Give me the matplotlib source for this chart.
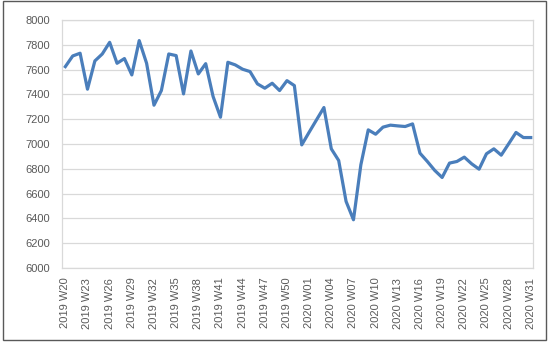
import matplotlib.pyplot as plt
from matplotlib.patches import Rectangle

# Semanas: 2019 W20..W52 y 2020 W01..W31
semanas = [f"2019 W{w:02d}" for w in range(20, 53)] + [f"2020 W{w:02d}" for w in range(1, 32)]

valores = [
    7624, 7710, 7732, 7442, 7670, 7726, 7820, 7651, 7689, 7557,
    7834, 7651, 7313, 7431, 7726, 7713, 7404, 7750, 7565, 7648,
    7383, 7216, 7659, 7638, 7603, 7584, 7485, 7450, 7490, 7431,
    7511, 7471, 6993, 7095, 7195, 7294, 6961, 6867, 6537, 6389,
    6832, 7114, 7079, 7136, 7152, 7146, 7141, 7162, 6926, 6859,
    6787, 6730, 6846, 6859, 6894, 6840, 6797, 6921, 6961, 6910,
    7001, 7093, 7052, 7052,
]

plt.rcParams['font.family'] = ['Liberation Sans', 'DejaVu Sans']

fig = plt.figure(figsize=(5.54, 3.44), dpi=100)
ax = fig.add_axes([62 / 554, 1 - 268 / 344, (533 - 62) / 554, (268 - 20) / 344])

x = list(range(len(valores)))
ax.plot(x, valores, color='#4a7ebb', linewidth=2.3, solid_joinstyle='round')

ax.set_ylim(6000, 8000)
ax.set_yticks(range(6000, 8001, 200))
ax.set_xlim(-0.45, len(valores) - 0.7)
ax.set_xticks(x[::3])
ax.set_xticklabels(semanas[::3], rotation=90)

ax.grid(True, axis='y', color='#d9d9d9', linewidth=0.9)
ax.set_axisbelow(True)
for s in ax.spines.values():
    s.set_color('#d9d9d9')
    s.set_linewidth(0.9)
ax.tick_params(length=0, labelsize=8, colors='#595959')
ax.tick_params(axis='y', pad=8.5)
ax.tick_params(axis='x', pad=7)

# marco exterior del gráfico
fig.patches.append(Rectangle((3 / 554, 1 - 340 / 344), 543 / 554, 339 / 344,
                             transform=fig.transFigure, fill=False,
                             edgecolor='#595959', linewidth=1))

fig.savefig('out.png', dpi=100)
